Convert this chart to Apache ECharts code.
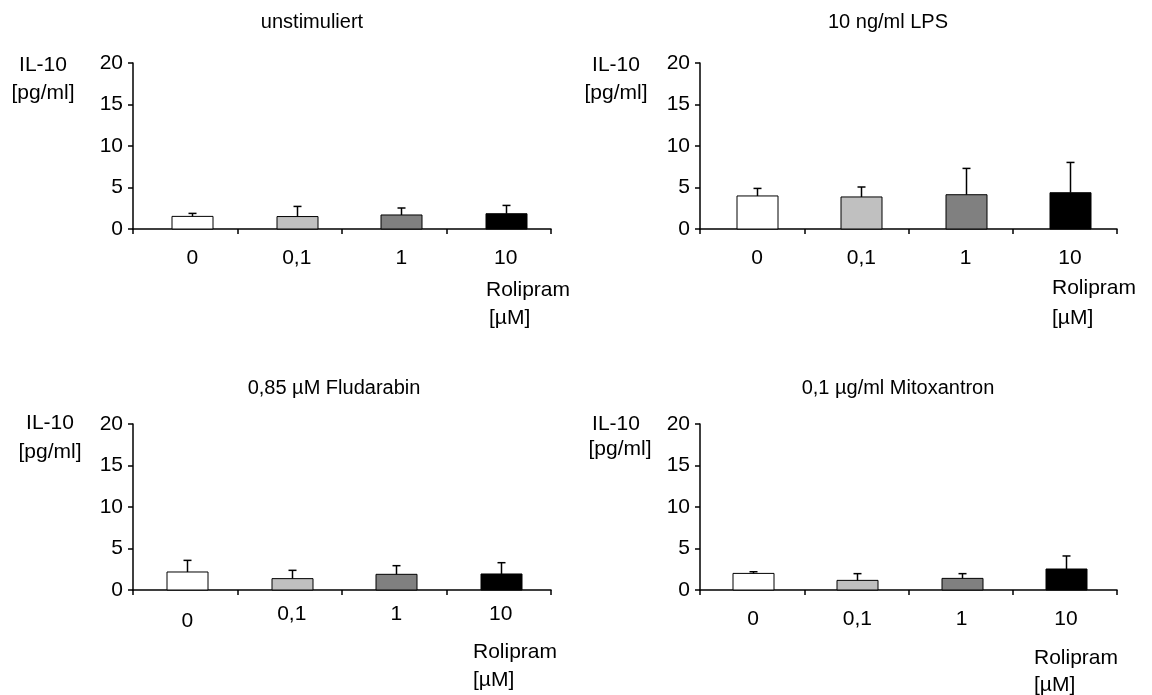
<!DOCTYPE html>
<html>
<head>
<meta charset="utf-8">
<title>IL-10</title>
<script src="https://cdn.jsdelivr.net/npm/echarts@6/dist/echarts.min.js"></script>
<style>
  html, body { margin: 0; padding: 0; background: #fff; }
  #chart { width: 1152px; height: 695px; }
</style>
</head>
<body>
<div id="chart"></div>
<script>
// Rolipram-Konzentrationen [µM]
const categories = ['0', '0,1', '1', '10'];
const panelTitles = ['unstimuliert', '10 ng/ml LPS', '0,85 µM Fludarabin', '0,1 µg/ml Mitoxantron'];

// IL-10 [pg/ml], Mittelwert und Standardabweichung
const unstimMean = [1.52, 1.50, 1.69, 1.84];
const unstimSd = [0.36, 1.22, 0.84, 1.00];
const lpsMean = [3.98, 3.86, 4.13, 4.37];
const lpsSd = [0.91, 1.20, 3.17, 3.65];
const fluMean = [2.17, 1.37, 1.89, 1.93];
const fluSd = [1.40, 1.00, 1.04, 1.36];
const mitoMean = [2.00, 1.16, 1.40, 2.53];
const mitoSd = [0.20, 0.81, 0.57, 1.57];

const yMin = 0;
const yMax = 20;
const yStep = 5;

const means = [unstimMean, lpsMean, fluMean, mitoMean];
const sds = [unstimSd, lpsSd, fluSd, mitoSd];

const barColors = ['#ffffff', '#c0c0c0', '#808080', '#000000'];
const font = "'Liberation Sans', Arial, sans-serif";
const fs = 21;
const titleFs = 20;

// layout of the four panels
const grids = [
  { left: 133, right: 601, top: 63, height: 166 },
  { left: 700, right: 35, top: 63, height: 166 },
  { left: 133, right: 601, top: 424, height: 166 },
  { left: 700, right: 35, top: 424, height: 166 }
];
// bars and labels sit a little right of the category centre
const shift = [7, 5, 2, 1];
const barW = 41;
const titleX = [312, 888, 334, 898];
const titleY = [22, 22, 388, 388];
const labelMargin = [19, 19, 14, 19];

const option = {
  animation: false,
  textStyle: { fontFamily: font },
  grid: grids,
  xAxis: grids.map((g, k) => ({
    type: 'category',
    gridIndex: k,
    data: categories,
    axisLine: { lineStyle: { color: '#000', width: 1.5 } },
    axisTick: { show: true, length: 5, lineStyle: { color: '#000', width: 1.5 } },
    axisLabel: {
      color: '#000',
      fontSize: fs,
      fontFamily: font,
      margin: labelMargin[k],
      padding: [0, 0, 0, shift[k] * 2],
      formatter: (v, i) => (k === 2 && i === 0) ? '{low|' + v + '}' : v,
      rich: { low: { fontSize: fs, fontFamily: font, color: '#000', padding: [7, 0, 0, 0] } }
    },
    splitLine: { show: false }
  })),
  yAxis: grids.map((g, k) => ({
    type: 'value',
    gridIndex: k,
    min: yMin,
    max: yMax,
    interval: yStep,
    axisLine: { show: true, lineStyle: { color: '#000', width: 1.5 } },
    axisTick: { show: true, length: 5, lineStyle: { color: '#000', width: 1.5 } },
    axisLabel: { color: '#000', fontSize: fs, fontFamily: font, margin: 10 },
    splitLine: { show: false }
  })),
  series: [],
  graphic: []
};

means.forEach((m, k) => {
  option.series.push({
    type: 'custom',
    xAxisIndex: k,
    yAxisIndex: k,
    encode: { x: 0, y: [1, 2] },
    data: m.map((v, i) => [i, v, v + sds[k][i]]),
    renderItem: (params, api) => {
      const i = api.value(0);
      const base = api.coord([i, 0]);
      const top = api.coord([i, api.value(1)]);
      const hi = api.coord([i, api.value(2)]);
      const cx = Math.round(top[0] + shift[k]) + 0.5;
      const st = { stroke: '#000', lineWidth: 1.5 };
      return {
        type: 'group',
        children: [
          {
            type: 'rect',
            shape: { x: cx - barW / 2, y: top[1], width: barW, height: base[1] - top[1] },
            style: { fill: barColors[i], stroke: '#000', lineWidth: 1 }
          },
          { type: 'line', shape: { x1: cx, y1: top[1], x2: cx, y2: hi[1] }, style: st },
          { type: 'line', shape: { x1: cx - 4, y1: hi[1], x2: cx + 4, y2: hi[1] }, style: st }
        ]
      };
    }
  });
});

function txt(text, x, y, align, size) {
  return {
    type: 'text',
    x: x,
    y: y,
    style: {
      text: text,
      fill: '#000',
      font: (size || fs) + 'px ' + font,
      textAlign: align || 'center',
      textVerticalAlign: 'middle'
    }
  };
}

panelTitles.forEach((t, k) => option.graphic.push(txt(t, titleX[k], titleY[k], 'center', titleFs)));

// y-axis caption
option.graphic.push(txt('IL-10', 43, 65), txt('[pg/ml]', 43, 93));
option.graphic.push(txt('IL-10', 616, 65), txt('[pg/ml]', 616, 93));
option.graphic.push(txt('IL-10', 50, 423), txt('[pg/ml]', 50, 452));
option.graphic.push(txt('IL-10', 616, 424), txt('[pg/ml]', 620, 449));

// x-axis caption
option.graphic.push(txt('Rolipram', 486, 290, 'left'), txt('[µM]', 489, 318, 'left'));
option.graphic.push(txt('Rolipram', 1052, 288, 'left'), txt('[µM]', 1052, 318, 'left'));
option.graphic.push(txt('Rolipram', 473, 652, 'left'), txt('[µM]', 473, 680, 'left'));
option.graphic.push(txt('Rolipram', 1034, 658, 'left'), txt('[µM]', 1034, 685, 'left'));

const chart = echarts.init(document.getElementById('chart'));
chart.setOption(option);
window.addEventListener('resize', () => chart.resize());
</script>
</body>
</html>
